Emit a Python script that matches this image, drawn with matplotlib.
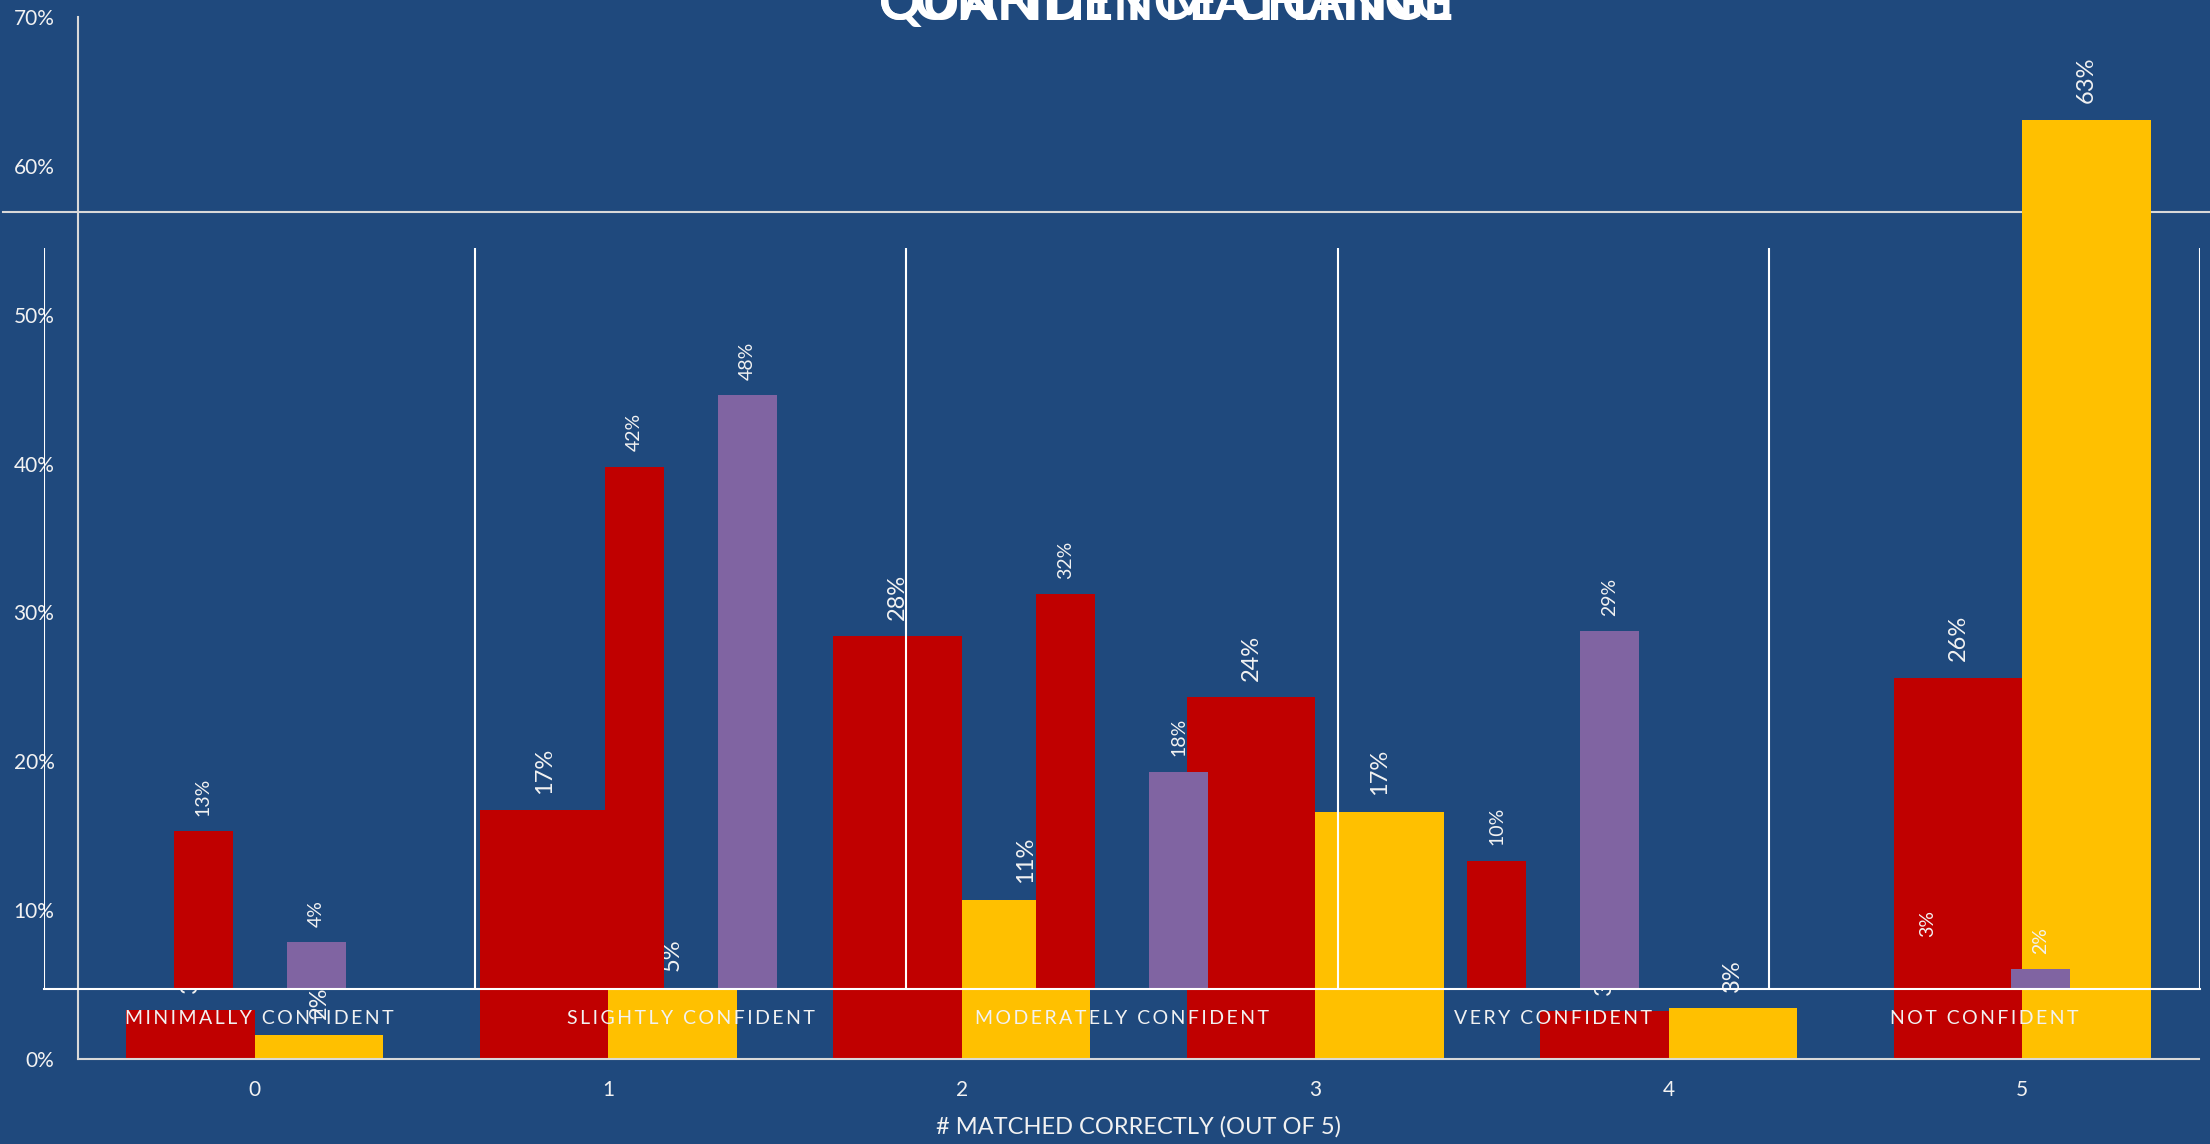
import matplotlib
matplotlib.use("Agg")
import matplotlib.pyplot as plt
from matplotlib.lines import Line2D
import numpy as np

BG = "#1F497D"
RED = "#C00000"
GOLD = "#FFC000"
PURPLE = "#8064A2"
SPINE = "#D9D9D9"
TXT = "#F2F2F2"

plt.rcParams["font.family"] = ["Lato", "DejaVu Sans"]

# Number of items matched correctly, before and after
match_counts = ["0", "1", "2", "3", "4", "5"]
match_before = [0.033, 0.167, 0.284, 0.243, 0.032, 0.256]
match_after = [0.016, 0.048, 0.107, 0.166, 0.034, 0.631]
match_ticks = [0.0, 0.1, 0.2, 0.3, 0.4, 0.5, 0.6, 0.7]

# Self-reported confidence, before and after
conf_levels = ["MINIMALLY CONFIDENT", "SLIGHTLY CONFIDENT", "MODERATELY CONFIDENT",
               "VERY CONFIDENT", "NOT CONFIDENT"]
conf_before = [0.128, 0.423, 0.320, 0.104, 0.030]
conf_after = [0.038, 0.481, 0.176, 0.290, 0.016]

W, H = 2210, 1144
fig = plt.figure(figsize=(W / 100, H / 100), dpi=100, facecolor=BG)


def pct(v):
    return f"{v * 100:.0f}%"


def spaced(s):
    return "\u2009".join(s)


# ---- matching chart (back layer) ----
ax = fig.add_axes([78 / W, 85 / H, 2121 / W, 1042 / H], facecolor="none", zorder=0)
x = np.arange(len(match_counts))
bw = 0.363
b1 = ax.bar(x - bw / 2, match_before, bw, color=RED, zorder=2)
b2 = ax.bar(x + bw / 2, match_after, bw, color=GOLD, zorder=2)
for bars in (b1, b2):
    for r in bars:
        v = r.get_height()
        ax.annotate(pct(v), (r.get_x() + r.get_width() / 2, v), xytext=(0, 12),
                    textcoords="offset points", rotation=90, ha="center", va="bottom",
                    color=TXT, fontsize=17, zorder=3)
ax.set_xlim(-0.5, len(match_counts) - 0.5)
ax.set_ylim(0, 0.7)
ax.set_yticks(match_ticks)
ax.set_yticklabels([pct(t) for t in match_ticks])
ax.set_xticks(x)
ax.set_xticklabels(match_counts)
ax.tick_params(axis="both", length=0, colors=TXT, labelsize=15)
ax.tick_params(axis="y", pad=17)
ax.tick_params(axis="x", pad=15)
for s in ("top", "right"):
    ax.spines[s].set_visible(False)
for s in ("left", "bottom"):
    ax.spines[s].set_color(SPINE)
    ax.spines[s].set_linewidth(1.5)
ax.set_xlabel("# MATCHED CORRECTLY (OUT OF 5)", color=TXT, fontsize=17, labelpad=12)

# ---- confidence chart (front layer) ----
ax2 = fig.add_axes([44 / W, 155 / H, 2156 / W, 741 / H], facecolor="none", zorder=1)
xc = np.arange(len(conf_levels))
off, cw = 0.131, 0.137
c1 = ax2.bar(xc - off, conf_before, cw, color=RED, zorder=2)
c2 = ax2.bar(xc + off, conf_after, cw, color=PURPLE, zorder=2)
for bars in (c1, c2):
    for r in bars:
        v = r.get_height()
        ax2.annotate(pct(v), (r.get_x() + r.get_width() / 2, v), xytext=(0, 11),
                     textcoords="offset points", rotation=90, ha="center", va="bottom",
                     color=TXT, fontsize=14, zorder=3)
ax2.vlines(np.arange(len(conf_levels) + 1) - 0.5, 0, 0.6, color="white", lw=1.5, zorder=1)
ax2.set_xlim(-0.5, len(conf_levels) - 0.5)
ax2.set_ylim(0, 0.6)
ax2.set_yticks([])
ax2.set_xticks(xc)
ax2.set_xticklabels([spaced(c) for c in conf_levels])
ax2.tick_params(axis="x", length=0, colors=TXT, labelsize=14, pad=15)
for s in ("top", "right", "left"):
    ax2.spines[s].set_visible(False)
ax2.spines["bottom"].set_color("white")
ax2.spines["bottom"].set_linewidth(1.5)

# stray rule behind both charts
fig.add_artist(Line2D([3 / W, 1.0], [1 - 212 / H] * 2, color=SPINE, lw=1.5, zorder=-1))

# both chart titles share the top edge
for t in ("QUANTITY MATCHING", "CONFIDENCE CHANGE"):
    fig.text(1166 / W, 1 - 20 / H, t, ha="center", va="baseline", color="white",
             fontsize=38, fontweight="bold")

fig.savefig("out.png", dpi=100, facecolor=BG)
